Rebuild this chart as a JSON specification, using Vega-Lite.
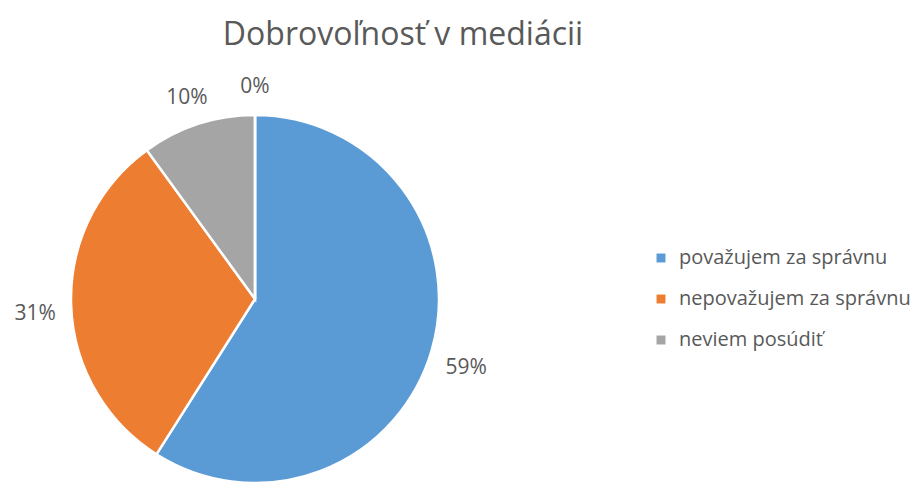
{
  "$schema": "https://vega.github.io/schema/vega-lite/v6.json",
  "width": 510,
  "height": 372,
  "autosize": {"type": "none"},
  "padding": {"left": 0, "top": 113, "right": 405, "bottom": 0},
  "background": "white",
  "title": {
    "text": "Dobrovoľnosť v mediácii",
    "font": "Open Sans",
    "fontSize": 32,
    "fontWeight": "normal",
    "color": "#595959",
    "anchor": "middle",
    "dx": 148,
    "offset": 24
  },
  "data": {
    "values": [
      {"i": 1, "kategoria": "považujem za správnu", "hodnota": 59, "label": "59%"},
      {"i": 2, "kategoria": "nepovažujem za správnu", "hodnota": 31, "label": "31%"},
      {"i": 3, "kategoria": "neviem posúdiť", "hodnota": 10, "label": "10%"},
      {"i": 4, "kategoria": "", "hodnota": 0, "label": "0%"}
    ]
  },
  "encoding": {
    "theta": {"field": "hodnota", "type": "quantitative", "stack": true},
    "order": {"field": "i", "type": "quantitative"}
  },
  "layer": [
    {
      "mark": {"type": "arc", "outerRadius": 184, "stroke": "white", "strokeWidth": 2.5},
      "encoding": {
        "color": {
          "field": "kategoria",
          "type": "nominal",
          "scale": {
            "domain": ["považujem za správnu", "nepovažujem za správnu", "neviem posúdiť"],
            "range": ["#5B9BD5", "#ED7D31", "#A5A5A5"]
          },
          "legend": {
            "title": null,
            "orient": "none",
            "legendX": 651,
            "legendY": 135,
            "symbolType": "square",
            "symbolSize": 80,
            "symbolStrokeWidth": 0,
            "labelFont": "Open Sans",
            "labelFontSize": 20,
            "labelColor": "#595959",
            "rowPadding": 21,
            "labelOffset": 8,
            "labelLimit": 400
          }
        }
      }
    },
    {
      "mark": {"type": "text", "radius": 220, "dy": 8, "font": "Open Sans", "fontSize": 21, "color": "#595959"},
      "encoding": {
        "text": {"field": "label", "type": "nominal"}
      }
    }
  ]
}
